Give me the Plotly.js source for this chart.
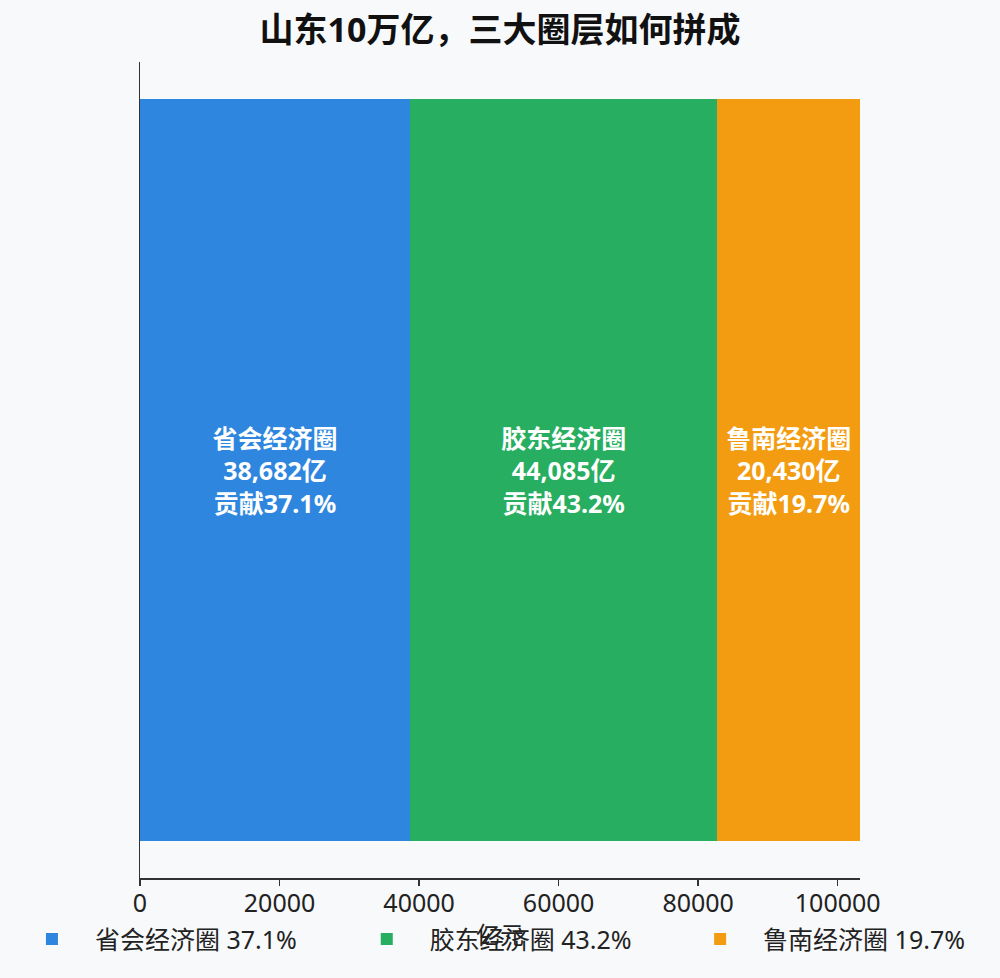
<!DOCTYPE html>
<html>
<head>
<meta charset="utf-8">
<script src="https://cdn.plot.ly/plotly-3.0.1.min.js"></script>
<style>
  html, body { margin: 0; padding: 0; background: #f8f9fb; }
  #chart { width: 1000px; height: 978px; }
</style>
</head>
<body>
<div id="chart"></div>
<script>
// 山东三大经济圈 GDP（亿元）
var regions = ["省会经济圈", "胶东经济圈", "鲁南经济圈"];
var gdpValues = [38682, 44085, 20430];
var shareValues = [37.1, 43.2, 19.7];
var regionColors = ["#2e86de", "#27ae60", "#f39c12"];
var categoryName = ["山东"];

var baseFont = "Noto Sans, Noto Sans CJK SC, sans-serif";
var total = gdpValues.reduce(function (a, b) { return a + b; }, 0);

// one legend per region so the three entries sit evenly across the bottom
var legendIds = ["legend", "legend2", "legend3"];
var legendX = [-0.182, 0.283, 0.746];

var plotData = [];
for (var i = 0; i < regions.length; i++)
{
    plotData.push({
        type: "bar",
        orientation: "h",
        name: regions[i] + " " + shareValues[i].toFixed(1) + "%",
        legend: legendIds[i],
        y: categoryName,
        x: [gdpValues[i]],
        text: [regions[i] + "<br>" + gdpValues[i].toLocaleString("en-US") + "亿<br>贡献" + shareValues[i].toFixed(1) + "%"],
        textposition: "inside",
        insidetextanchor: "middle",
        textangle: 0,
        textfont: { family: baseFont, size: 25, color: "#ffffff", weight: "bold" },
        marker: { color: regionColors[i], line: { width: 0 } },
        hoverinfo: "skip"
    });
}

var layout = {
    width: 1000,
    height: 978,
    paper_bgcolor: "#f8f9fb",
    plot_bgcolor: "#f8f9fb",
    barmode: "stack",
    bargap: 0.09,
    margin: { l: 140, r: 140, t: 62, b: 100, autoexpand: false },
    font: { family: baseFont, size: 24, color: "#222222" },
    title: {
        text: "<b>山东10万亿，三大圈层如何拼成</b>",
        font: { family: baseFont, size: 34, color: "#111111" },
        x: 0.5,
        xanchor: "center",
        y: 0.969,
        yanchor: "middle"
    },
    xaxis: {
        range: [0, total],
        showline: true,
        linecolor: "#333333",
        linewidth: 1.5,
        ticks: "outside",
        ticklen: 6,
        tickcolor: "#333333",
        tickwidth: 1.5,
        ticklabelstandoff: -4,
        dtick: 20000,
        tickformat: "d",
        showgrid: false,
        zeroline: false,
        automargin: false,
        tickfont: { size: 25, color: "#222222" },
        title: { text: "亿元", font: { size: 24, color: "#222222" }, standoff: 0 }
    },
    yaxis: {
        showline: true,
        linecolor: "#333333",
        linewidth: 1.5,
        showticklabels: false,
        ticks: "",
        showgrid: false,
        zeroline: false
    },
    showlegend: true
};

for (var j = 0; j < legendIds.length; j++)
{
    layout[legendIds[j]] = {
        orientation: "h",
        x: legendX[j],
        xanchor: "left",
        y: -0.075,
        yanchor: "middle",
        itemwidth: 76,
        font: { size: 25, color: "#222222" },
        bgcolor: "rgba(0,0,0,0)"
    };
}

var config = { displayModeBar: false, staticPlot: true };

Plotly.newPlot("chart", plotData, layout, config);
</script>
</body>
</html>
